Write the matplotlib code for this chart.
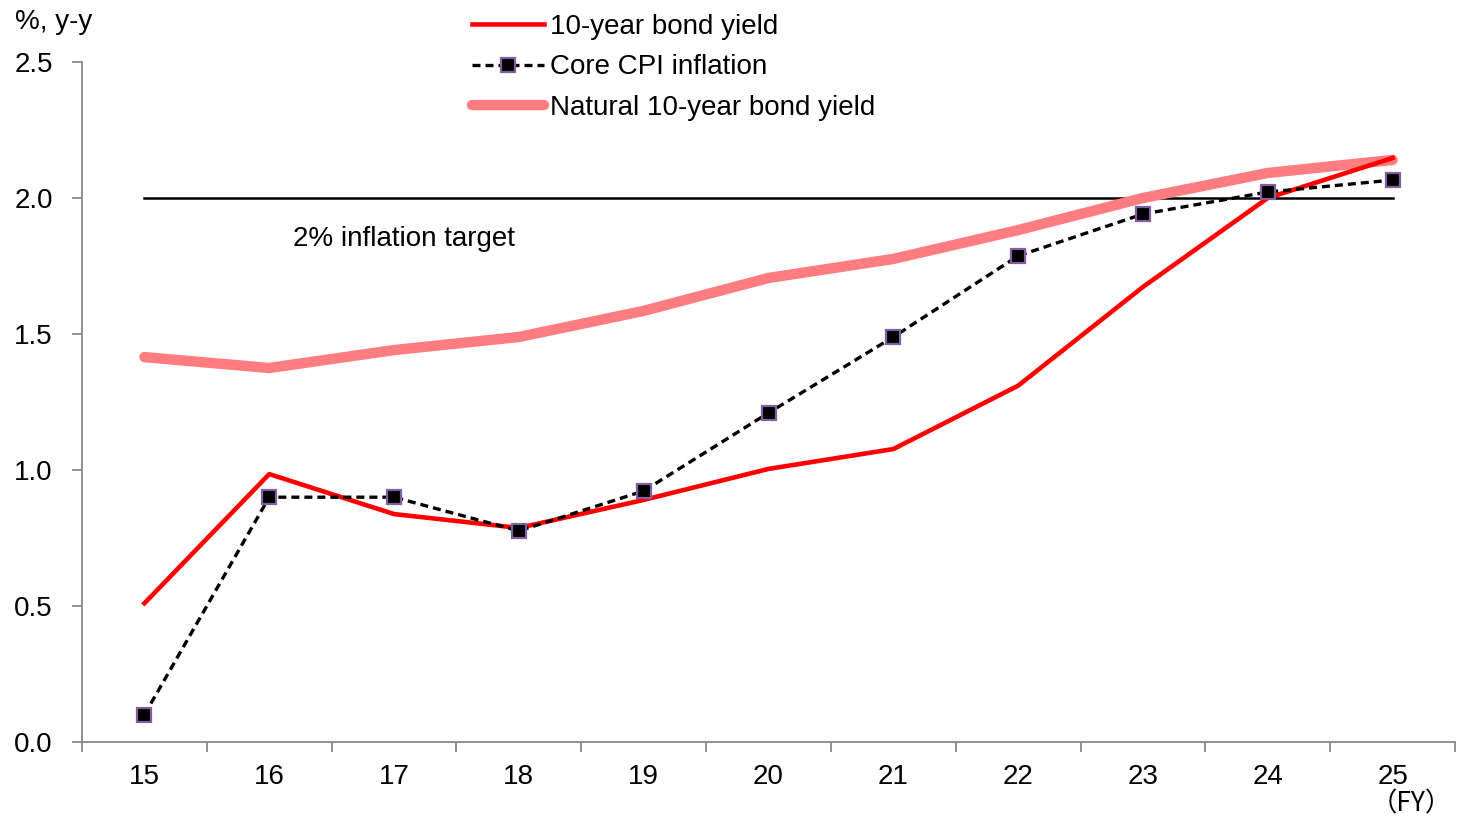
import matplotlib
matplotlib.use("Agg")
import matplotlib.pyplot as plt
import numpy as np

plt.rcParams['font.family'] = ['Liberation Sans', 'Noto Sans CJK JP', 'DejaVu Sans']

years = [15, 16, 17, 18, 19, 20, 21, 22, 23, 24, 25]
bond_yield = [0.51, 0.985, 0.838, 0.787, 0.89, 1.004, 1.077, 1.31, 1.673, 2.0, 2.147]
core_cpi = [0.10, 0.90, 0.90, 0.776, 0.923, 1.21, 1.489, 1.787, 1.941, 2.022, 2.066]
natural_yield = [1.415, 1.375, 1.441, 1.489, 1.585, 1.706, 1.776, 1.882, 2.0, 2.092, 2.14]
target = 2.0

fs = 20

fig = plt.figure(figsize=(14.57, 8.25), dpi=100)
ax = fig.add_axes([82/1457, 83/825, (1455-82)/1457, (742-62)/825])

x = np.array(years)
ax.plot(x, bond_yield, color='#ff0000', lw=3.3, label='10-year bond yield', zorder=4)
ax.plot(x, core_cpi, color='black', lw=2.4, ls=(0, (2.4, 1.5)), marker='s', ms=10.5,
        mfc='black', mec='#7f60a0', mew=1.6, label='Core CPI inflation', zorder=5)
ax.plot(x, natural_yield, color='#ff7c80', lw=7.5, solid_capstyle='round',
        label='Natural 10-year bond yield', zorder=3)
ax.plot([years[0], years[-1]], [target, target], color='black', lw=1.8, zorder=2)
ax.text(16.19, 1.85, '2% inflation target', fontsize=fs, va='center', ha='left')

ax.set_xlim(14.5, 25.5)
ax.set_ylim(0, 2.5)
ax.set_yticks([0.0, 0.5, 1.0, 1.5, 2.0, 2.5])
ax.set_yticklabels(['0.0', '0.5', '1.0', '1.5', '2.0', '2.5'])
ax.set_xticks(years)
ax.set_xticklabels([str(y) for y in years])
ax.set_xticks(np.arange(14.5, 25.6, 1.0), minor=True)
ax.tick_params(axis='x', which='major', length=0, labelsize=fs, pad=16)
ax.tick_params(axis='x', which='minor', length=7, width=1.3, color='#888888')
ax.tick_params(axis='y', which='major', length=7, width=1.3, color='#888888',
               labelsize=fs, pad=14)
for s in ['top', 'right']:
    ax.spines[s].set_visible(False)
for s in ['left', 'bottom']:
    ax.spines[s].set_color('#888888')
    ax.spines[s].set_linewidth(1.3)

fig.text(15/1457, 1 - 22/825, '%, y-y', fontsize=fs, va='center', ha='left')
fig.text(1452/1457, 1 - 804/825, '（FY）', fontsize=19, va='center', ha='right',
         family=['Noto Sans CJK JP', 'DejaVu Sans'])

leg = ax.legend(loc='upper left', bbox_to_anchor=(472/1457, 1 - 14/825),
                bbox_transform=fig.transFigure, frameon=False, fontsize=fs,
                borderpad=0, borderaxespad=0, handlelength=2.6, handletextpad=0.2,
                labelspacing=0.52)

fig.savefig('out.png', dpi=100)
